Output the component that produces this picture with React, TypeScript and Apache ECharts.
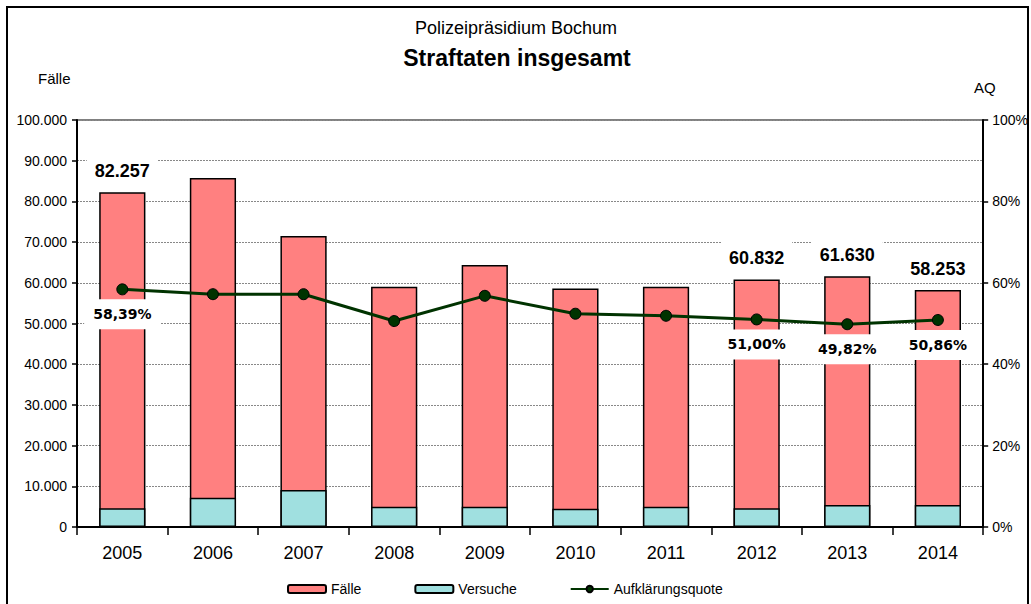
import React, { useEffect, useRef } from "react";
import * as echarts from "echarts";

const years = ["2005", "2006", "2007", "2008", "2009", "2010", "2011", "2012", "2013", "2014"];
const faelle = [82257, 85750, 71500, 59000, 64400, 58600, 59000, 60832, 61630, 58253];
const versuche = [4600, 7200, 9100, 5000, 5000, 4500, 5000, 4600, 5400, 5400];
const aufklaerungsquote = [58.39, 57.2, 57.2, 50.6, 56.8, 52.4, 51.9, 51.0, 49.82, 50.86];
const labelledFaelle = [0, 7, 8, 9];
const labelledQuote = [0, 7, 8, 9];
const leftTicks = { min: 0, max: 100000, interval: 10000 };
const rightTicks = { min: 0, max: 100, interval: 20 };

const FONT = "'Liberation Sans', Arial, sans-serif";

function fmtThousands(v: number): string {
  const s = Math.round(v).toString();
  return s.replace(/\B(?=(\d{3})+(?!\d))/g, ".");
}
function fmtPct(v: number): string {
  return v.toFixed(2).replace(".", ",") + "%";
}

export default function App() {
  const ref = useRef<HTMLDivElement>(null);
  useEffect(() => {
    if (!ref.current) return;
    const chart = echarts.init(ref.current, null, { renderer: "svg" });
    const option: any = {
      animation: false,
      backgroundColor: "#fff",
      textStyle: { fontFamily: FONT },
      graphic: [
        {
          type: "rect",
          shape: { x: 7, y: 7, width: 1021, height: 640 },
          style: { fill: "none", stroke: "#000", lineWidth: 2 },
          silent: true,
        },
        {
          type: "text",
          x: 516,
          y: 28,
          style: {
            text: "Polizeipräsidium Bochum",
            font: `18px ${FONT}`,
            fill: "#000",
            align: "center",
            verticalAlign: "middle",
          },
        },
        {
          type: "text",
          x: 517,
          y: 58,
          style: {
            text: "Straftaten insgesamt",
            font: `bold 23px ${FONT}`,
            fill: "#000",
            align: "center",
            verticalAlign: "middle",
          },
        },
        {
          type: "text",
          x: 38,
          y: 78,
          style: { text: "Fälle", font: `15px ${FONT}`, fill: "#000", verticalAlign: "middle" },
        },
        {
          type: "text",
          x: 974,
          y: 87,
          style: { text: "AQ", font: `15px ${FONT}`, fill: "#000", verticalAlign: "middle" },
        },
      ],
      grid: {
        left: 77,
        right: 46,
        top: 120,
        bottom: 77,
        show: true,
        borderColor: "#000",
        borderWidth: 1,
        backgroundColor: "transparent",
      },
      legend: {
        left: 282,
        top: 577,
        itemWidth: 38,
        itemHeight: 8,
        itemGap: 53,
        textStyle: { fontFamily: FONT, fontSize: 14, color: "#000" },
        data: ["Fälle", "Versuche", "Aufklärungsquote"],
      },
      xAxis: {
        type: "category",
        data: years,
        boundaryGap: true,
        axisLine: { lineStyle: { color: "#000", width: 2 } },
        axisTick: { show: true, alignWithLabel: false, length: 8, lineStyle: { color: "#000", width: 1.5 } },
        axisLabel: { fontFamily: FONT, fontSize: 18, color: "#000", margin: 17 },
      },
      yAxis: [
        {
          type: "value",
          min: leftTicks.min,
          max: leftTicks.max,
          interval: leftTicks.interval,
          axisLine: { show: true, lineStyle: { color: "#000", width: 2 } },
          axisTick: { show: true, length: 5, lineStyle: { color: "#000", width: 1.5 } },
          axisLabel: {
            fontFamily: FONT,
            fontSize: 14,
            color: "#000",
            margin: 10,
            formatter: (v: number) => fmtThousands(v),
          },
          splitLine: { show: true, lineStyle: { color: "#888", width: 1, type: [2, 1] } },
        },
        {
          type: "value",
          min: rightTicks.min,
          max: rightTicks.max,
          interval: rightTicks.interval,
          position: "right",
          axisLine: { show: true, lineStyle: { color: "#000", width: 2 } },
          axisTick: { show: true, length: 5, lineStyle: { color: "#000", width: 1.5 } },
          axisLabel: {
            fontFamily: FONT,
            fontSize: 14,
            color: "#000",
            margin: 9,
            formatter: (v: number) => v + "%",
          },
          splitLine: { show: false },
        },
      ],
      series: [
        {
          name: "Fälle",
          type: "bar",
          barWidth: "51%",
          barGap: "-100%",
          itemStyle: { color: "#FF8080", borderColor: "#000", borderWidth: 1.5 },
          data: faelle.map((v, i) => ({
            value: v,
            label: {
              show: labelledFaelle.includes(i),
              position: "top",
              distance: 8,
              formatter: (p: any) => fmtThousands(p.value),
              fontFamily: FONT,
              fontSize: 18,
              fontWeight: "bold",
              color: "#000",
              backgroundColor: "#fff",
              padding: [10, 8, 4, 8],
            },
          })),
        },
        {
          name: "Versuche",
          type: "bar",
          barWidth: "51%",
          itemStyle: { color: "#A0E0E0", borderColor: "#000", borderWidth: 1.5 },
          data: versuche,
        },
        {
          name: "Aufklärungsquote",
          type: "line",
          yAxisIndex: 1,
          z: 5,
          symbol: "circle",
          symbolSize: 11,
          lineStyle: { color: "#003300", width: 3 },
          itemStyle: { color: "#003300", borderColor: "#000", borderWidth: 1 },
          data: aufklaerungsquote.map((v, i) => ({
            value: v,
            label: {
              show: labelledQuote.includes(i),
              position: "bottom",
              distance: 4,
              formatter: (p: any) => fmtPct(p.value),
              fontFamily: "'DejaVu Sans', sans-serif",
              fontSize: 14,
              fontWeight: "bold",
              color: "#000",
              backgroundColor: "#fff",
              padding: [8, 9],
            },
          })),
        },
      ],
    };
    chart.setOption(option);
    return () => chart.dispose();
  }, []);
  return (
    <div
      ref={ref}
      style={{ position: "fixed", left: 0, top: 0, width: 1031, height: 604, background: "#fff" }}
    />
  );
}
